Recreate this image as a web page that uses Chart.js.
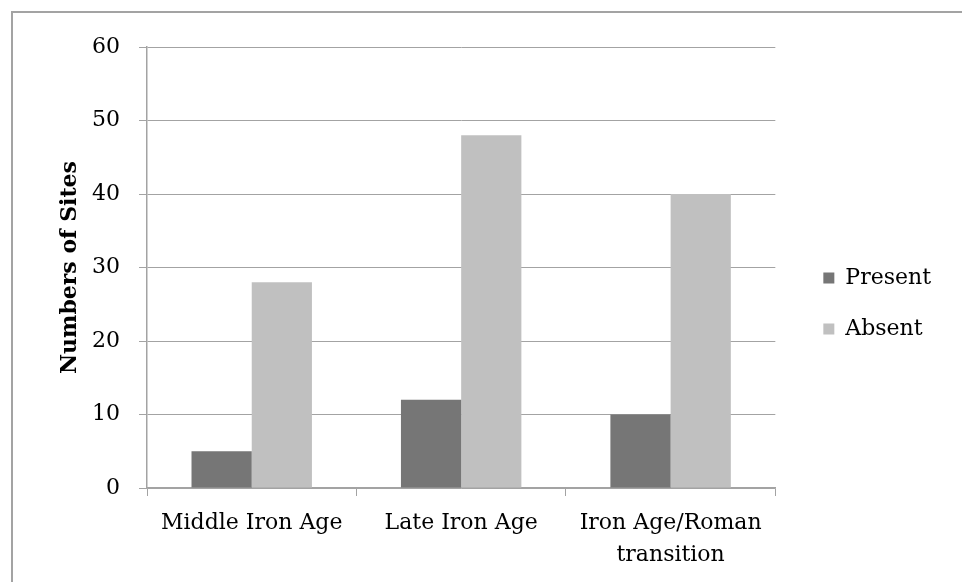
<!DOCTYPE html>
<html>
<head>
<meta charset="utf-8">
<script src="https://cdn.jsdelivr.net/npm/chart.js@4"></script>
<style>
  html, body { margin: 0; width: 962px; height: 582px; overflow: hidden; background: #fff; }
  body { position: relative; }
  #frame { position: absolute; left: 11px; top: 11px; width: 1000px; height: 1000px; border: 2px solid #a3a3a3; }
  #wrap { position: absolute; left: 0; top: 0; width: 962px; height: 582px; }
</style>
</head>
<body>
<div id="frame"></div>
<div id="wrap"><canvas id="sites-chart"></canvas></div>
<script>
// Sites chart
const periodLabels = [
  "Middle Iron Age",
  "Late Iron Age",
  ["Iron Age/Roman", "transition"],
];

const presentCounts = [5, 12, 10];
const absentCounts = [28, 48, 40];

const yTicks = { min: 0, max: 60, step: 10 };

const lineGrey = "#a3a3a3";
const serif = "DejaVu Serif";

// blank scale used only to reserve space
const spacer = (pos, size) => ({
  type: "linear",
  position: pos,
  display: true,
  grid: { display: false },
  border: { display: false },
  ticks: { display: false },
  afterFit: (scale) => {
    if (pos === "top") scale.height = size;
    else scale.width = size;
  },
});

const sitesData = {
  labels: periodLabels,
  datasets: [
    {
      label: "Present",
      data: presentCounts,
      backgroundColor: "#767676",
      categoryPercentage: 0.575,
      barPercentage: 1.0,
    },
    {
      label: "Absent",
      data: absentCounts,
      backgroundColor: "#c0c0c0",
      categoryPercentage: 0.575,
      barPercentage: 1.0,
    },
  ],
};

const sitesConfig = {
  type: "bar",
  data: sitesData,
  options: {
    responsive: true,
    maintainAspectRatio: false,
    animation: false,
    layout: {
      padding: { left: 0, top: 36, right: 21, bottom: 11 },
    },
    plugins: {
      tooltip: { enabled: false },
      legend: {
        display: true,
        position: "right",
        labels: {
          boxWidth: 11,
          boxHeight: 11,
          padding: 29,
          color: "#000",
          font: { family: serif, size: 22 },
        },
      },
    },
    scales: {
      x: {
        offset: true,
        grid: {
          offset: true,
          drawOnChartArea: false,
          drawTicks: true,
          tickLength: 8,
          color: lineGrey,
        },
        border: { display: true, color: lineGrey, width: 1.5 },
        ticks: {
          padding: 11,
          color: "#000",
          maxRotation: 0,
          font: { family: serif, size: 22, lineHeight: 1.4545 },
        },
        afterFit: (scale) => {
          scale.height = 83;
        },
      },
      y: {
        min: yTicks.min,
        max: yTicks.max,
        ticks: {
          stepSize: yTicks.step,
          padding: 19,
          color: "#000",
          font: { family: serif, size: 22 },
        },
        grid: {
          color: lineGrey,
          tickLength: 8,
          drawTicks: true,
        },
        border: { display: true, color: lineGrey, width: 1.5 },
        title: {
          display: true,
          text: "Numbers of Sites",
          color: "#000",
          padding: { top: 57, bottom: 9 },
          font: { family: serif, size: 22, weight: "bold", lineHeight: 1.2 },
        },
        afterFit: (scale) => {
          scale.width = 147;
        },
      },
      gapRight: spacer("right", 19),
      gapTop: spacer("top", 11),
    },
  },
};

const sitesChart = new Chart(
  document.getElementById("sites-chart"),
  sitesConfig
);
</script>
</body>
</html>
